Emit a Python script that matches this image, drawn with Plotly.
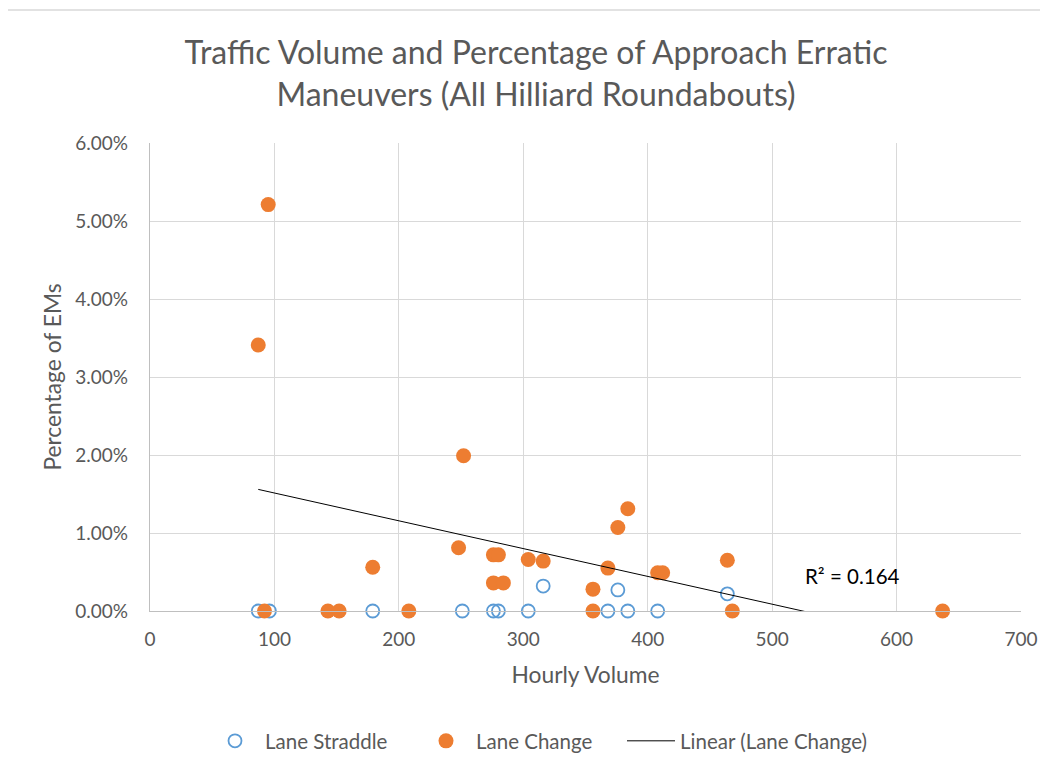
import plotly.graph_objects as go
import numpy as np

# ---- data ----
straddle_x = [87, 96, 179, 251, 276, 280, 304, 316, 368, 376, 384, 408, 464]
straddle_y = [0.0, 0.0, 0.0, 0.0, 0.0, 0.0, 0.0, 0.0032, 0.0, 0.0027, 0.0, 0.0, 0.0022]

change_x = [87, 95, 92, 143, 152, 179, 208, 248, 252, 276, 280, 276, 284,
            304, 316, 356, 356, 368, 376, 384, 408, 412, 464, 468, 637]
change_y = [0.0341, 0.0521, 0.0, 0.0, 0.0, 0.0056, 0.0, 0.0081, 0.0199, 0.0072, 0.0072, 0.0036, 0.0036,
            0.0066, 0.0064, 0.0028, 0.0, 0.0055, 0.0107, 0.0131, 0.0049, 0.0049, 0.0065, 0.0, 0.0]

r2_label = "R² = 0.164"
title_text = "Traffic Volume and Percentage of Approach Erratic<br>Maneuvers (All Hilliard Roundabouts)"
x_ticks = [0, 100, 200, 300, 400, 500, 600, 700]
y_ticks = [0.0, 0.01, 0.02, 0.03, 0.04, 0.05, 0.06]

# linear trendline of Lane Change
slope, intercept = np.polyfit(change_x, change_y, 1)
trend_x = [min(change_x), max(change_x)]
trend_y = [slope * v + intercept for v in trend_x]

FONT = "Lato"
GREY = "#595959"
W, H = 1040, 760  # page body has an 8px margin

fig = go.Figure()
fig.add_trace(go.Scatter(
    x=straddle_x, y=straddle_y, mode="markers", name="Lane Straddle", legend="legend",
    marker=dict(symbol="circle-open", size=13, color="#5B9BD5", line=dict(width=1.8, color="#5B9BD5")),
    cliponaxis=False))
fig.add_trace(go.Scatter(
    x=change_x, y=change_y, mode="markers", name="Lane Change", legend="legend2",
    marker=dict(symbol="circle", size=15, color="#ED7D31"),
    cliponaxis=False))
fig.add_trace(go.Scatter(
    x=trend_x, y=trend_y, mode="lines", name="Linear (Lane Change)", legend="legend3",
    line=dict(color="black", width=1)))

fig.add_annotation(x=525, y=0.0045, xref="x", yref="y", text=r2_label, showarrow=False,
                   xanchor="left", yanchor="middle", font=dict(family=FONT, size=20.5, color="#000000"))

# chart-area border (only top/left visible in the picture)
fig.add_shape(type="rect", xref="paper", yref="paper",
              x0=-0.1642, x1=1.06, y0=-0.5, y1=1.2842,
              line=dict(color="#D9D9D9", width=1.5), fillcolor="rgba(0,0,0,0)", layer="below")

legend_common = dict(orientation="h", xref="container", yref="container", xanchor="left", yanchor="middle",
                     y=1 - 733 / H, font=dict(family=FONT, size=20.5, color=GREY), itemclick=False,
                     bgcolor="rgba(0,0,0,0)", borderwidth=0)

fig.update_layout(
    width=W, height=H,
    paper_bgcolor="white", plot_bgcolor="white",
    margin=dict(l=142, r=27, t=135, b=157),
    font=dict(family=FONT, color=GREY, size=16),
    title=dict(text=title_text, x=528 / W, xanchor="center", xref="container",
               y=1 - 56 / H, yref="container", yanchor="middle",
               font=dict(family=FONT, size=32, color=GREY)),
    showlegend=True,
    legend=dict(legend_common, x=197 / W, itemwidth=50),
    legend2=dict(legend_common, x=408 / W, itemwidth=50),
    legend3=dict(legend_common, x=614 / W, itemwidth=48),
    xaxis=dict(range=[0, 700], tickvals=x_ticks, showgrid=True, gridcolor="#D9D9D9", gridwidth=1,
               showline=True, linecolor="#BFBFBF", linewidth=1.3, zeroline=False, ticks="",
               automargin=False, ticklabelstandoff=11,
               tickfont=dict(family=FONT, size=19, color=GREY),
               title=dict(text="Hourly Volume", font=dict(family=FONT, size=22.8, color=GREY), standoff=18)),
    yaxis=dict(range=[0, 0.06], tickvals=y_ticks, tickformat=".2%", showgrid=True, gridcolor="#D9D9D9",
               gridwidth=1, showline=True, linecolor="#BFBFBF", linewidth=1.3, zeroline=False, ticks="",
               automargin=False, ticklabelstandoff=17,
               tickfont=dict(family=FONT, size=19, color=GREY),
               title=dict(text="Percentage of EMs", font=dict(family=FONT, size=22.8, color=GREY), standoff=7)),
)

fig.write_html("out.html")
